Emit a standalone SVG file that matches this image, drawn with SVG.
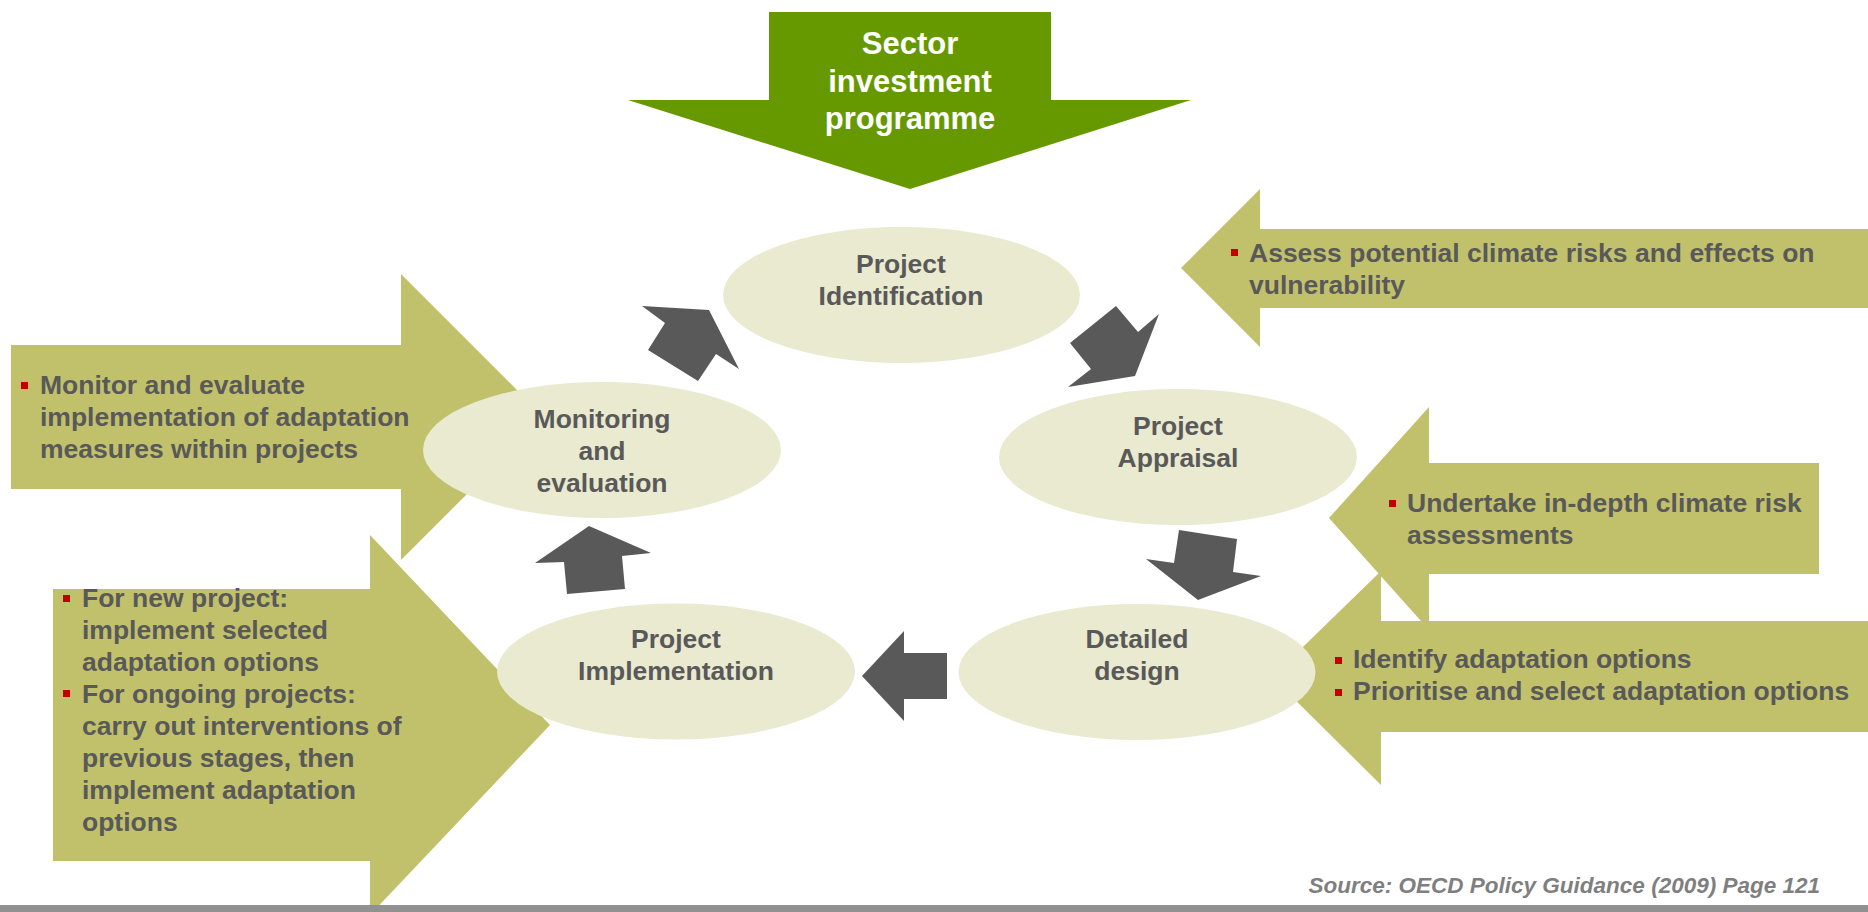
<svg xmlns="http://www.w3.org/2000/svg" width="1868" height="912" viewBox="0 0 1868 912">
  <style>
    .olive { fill: #C2C16B; }
    .node { fill: #E9EAD0; }
    .conn { fill: #595959; }
    .t { font-family: "Liberation Sans", Arial, sans-serif; font-weight: bold; font-size: 26.5px; fill: #595959; }
    .c { text-anchor: middle; }
    .w { font-family: "Liberation Sans", Arial, sans-serif; font-weight: bold; font-size: 31px; fill: #FFFFFF; text-anchor: middle; }
    .src { font-family: "Liberation Sans", Arial, sans-serif; font-weight: bold; font-style: italic; font-size: 22.5px; fill: #7F7F7F; text-anchor: end; }
  </style>
  <defs>
    <rect id="bul" width="7" height="7" fill="#C00000"/>
  </defs>
  <rect width="1868" height="912" fill="#FFFFFF"/>

  <!-- Input arrows -->
  <g id="sector">
    <polygon points="769,12 1051,12 1051,100 1191,100 910,189 628,100 769,100" fill="#669900"/>
    <text class="w" x="910" y="54">Sector</text>
    <text class="w" x="910" y="91.5">investment</text>
    <text class="w" x="910" y="129">programme</text>
  </g>

  <g id="input-monitor">
    <polygon class="olive" points="11,345 401,345 401,274 544,417 401,560 401,489 11,489"/>
  </g>

  <g id="input-implementation">
    <polygon class="olive" points="53,589 370,589 370,535 550,725 370,915 370,861 53,861"/>
  </g>

  <g id="input-identification">
    <polygon class="olive" points="1868,229 1260,229 1260,189 1181,268 1260,347 1260,308 1868,308"/>
  </g>

  <g id="input-design">
    <polygon class="olive" points="1868,621 1381,621 1381,571 1272,677 1381,785 1381,732 1868,732"/>
  </g>

  <g id="input-appraisal">
    <polygon class="olive" points="1819,463 1429,463 1429,407 1329,518 1429,630 1429,574 1819,574"/>
  </g>

  <!-- Nodes -->
  <g id="node-identification">
    <ellipse class="node" cx="901.5" cy="295" rx="178.5" ry="68"/>
    <text class="t c" x="901" y="273">Project</text>
    <text class="t c" x="901" y="305">Identification</text>
  </g>

  <g id="node-appraisal">
    <ellipse class="node" cx="1178" cy="457" rx="179" ry="68"/>
    <text class="t c" x="1178" y="435">Project</text>
    <text class="t c" x="1178" y="467">Appraisal</text>
  </g>

  <g id="node-design">
    <ellipse class="node" cx="1137" cy="672" rx="178.5" ry="68"/>
    <text class="t c" x="1137" y="648">Detailed</text>
    <text class="t c" x="1137" y="680">design</text>
  </g>

  <g id="node-implementation">
    <ellipse class="node" cx="676" cy="671.5" rx="179" ry="68"/>
    <text class="t c" x="676" y="648">Project</text>
    <text class="t c" x="676" y="680">Implementation</text>
  </g>

  <g id="node-monitoring">
    <ellipse class="node" cx="602" cy="450" rx="179" ry="68"/>
    <text class="t c" x="602" y="428">Monitoring</text>
    <text class="t c" x="602" y="460">and</text>
    <text class="t c" x="602" y="492">evaluation</text>
  </g>

  <!-- Input texts -->
  <g id="text-monitor">
    <use href="#bul" x="21" y="382"/>
    <text class="t" x="40" y="394">Monitor and evaluate</text>
    <text class="t" x="40" y="426">implementation of adaptation</text>
    <text class="t" x="40" y="458">measures within projects</text>
  </g>

  <g id="text-implementation">
    <use href="#bul" x="63" y="595"/>
    <text class="t" x="82" y="607">For new project:</text>
    <text class="t" x="82" y="639">implement selected</text>
    <text class="t" x="82" y="671">adaptation options</text>
    <use href="#bul" x="63" y="690"/>
    <text class="t" x="82" y="703">For ongoing projects:</text>
    <text class="t" x="82" y="735">carry out interventions of</text>
    <text class="t" x="82" y="767">previous stages, then</text>
    <text class="t" x="82" y="799">implement adaptation</text>
    <text class="t" x="82" y="831">options</text>
  </g>

  <g id="text-identification">
    <use href="#bul" x="1231" y="249"/>
    <text class="t" x="1249" y="262">Assess potential climate risks and effects on</text>
    <text class="t" x="1249" y="294">vulnerability</text>
  </g>

  <g id="text-appraisal">
    <use href="#bul" x="1389" y="500"/>
    <text class="t" x="1407" y="512">Undertake in-depth climate risk</text>
    <text class="t" x="1407" y="544">assessments</text>
  </g>

  <g id="text-design">
    <use href="#bul" x="1335" y="657"/>
    <text class="t" x="1353" y="668">Identify adaptation options</text>
    <use href="#bul" x="1335" y="689"/>
    <text class="t" x="1353" y="700">Prioritise and select adaptation options</text>
  </g>

  <!-- Connectors -->
  <g id="connectors">
    <polygon class="conn" points="1116,306 1138,332 1159,314 1135,376 1068,387 1091,369 1070,343"/>
    <polygon class="conn" points="1179,530 1237,539 1233,572 1261,576 1198,600 1146,559 1174,563"/>
    <polygon class="conn" points="862,676 904,631 904,653 947,653 947,699 904,699 904,721"/>
    <polygon class="conn" points="589,526 651,553 622,556 625,589 567,594 564,562 535,563"/>
    <polygon class="conn" points="642,306 709,310 739,369 716,354 698,381 648,350 665,323"/>
  </g>

  <!-- Footer -->
  <g id="footer">
    <text class="src" x="1820" y="893">Source: OECD Policy Guidance (2009) Page 121</text>
    <rect x="0" y="905" width="1868" height="7" fill="#919191"/>
  </g>
</svg>
